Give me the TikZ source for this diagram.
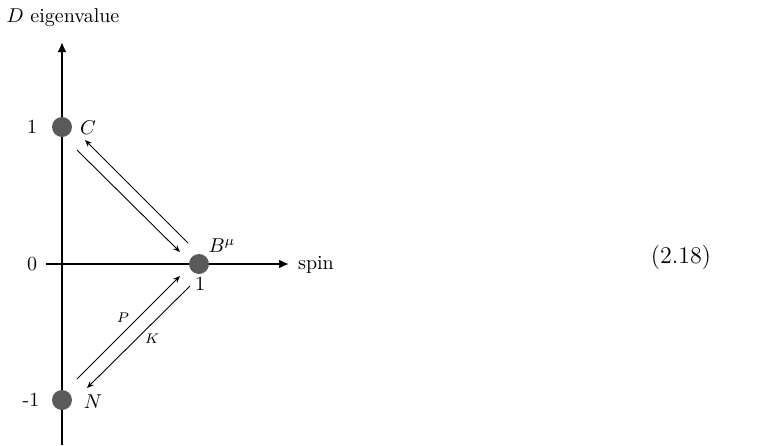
\documentclass[tikz,border=0pt]{standalone}
\usetikzlibrary{arrows.meta}
\definecolor{dotgray}{RGB}{90,90,90}
\begin{document}
\begin{tikzpicture}[x=0.5pt,y=-0.5pt,
  axis/.style={line width=1.2pt,-{Latex[length=5pt,width=4.5pt]}},
  trans/.style={line width=0.45pt,-{Stealth[length=3.5pt,width=2.8pt]}},
  state/.style={circle,fill=dotgray,minimum size=10pt,inner sep=0pt},
  lbl/.style={inner sep=0pt}]
\useasboundingbox (0,0) rectangle (766,445);
% axes
\coordinate (vbot) at (62,445);
\coordinate (vtop) at (62,42);
\coordinate (hleft) at (46,264);
\coordinate (hright) at (289,264);
\draw[axis] (vbot) -- (vtop);
\draw[axis] (hleft) -- (hright);
% states
\node[state] (C) at (62,127) {};
\node[state] (B) at (199,264) {};
\node[state] (N) at (62,400) {};
% labels
\node[lbl] (ylab) at (63,18) {$D$ eigenvalue};
\node[lbl] (xlab) at (316,265) {spin};
\node[lbl] (t1) at (32,127) {1};
\node[lbl] (t0) at (32,264) {0};
\node[lbl] (tm1) at (31,400) {-1};
\node[lbl] (Clab) at (88,128) {$C$};
\node[lbl] (Blab) at (222,246) {$B^{\mu}$};
\node[lbl] (Bspin) at (200,284) {1};
\node[lbl] (Nlab) at (93,402) {$N$};
\node[lbl] (eq) at (681,258) {\large (2.18)};
\node[lbl,font=\scriptsize] (Plab) at (123,318) {$P$};
\node[lbl,font=\scriptsize] (Klab) at (152,339) {$K$};
% transitions
\draw[trans] ([shift={(-11,-21)}]B.center) -- ([shift={(23,13)}]C.center);
\draw[trans] ([shift={(15,23)}]C.center) -- ([shift={(-19,-12)}]B.center);
\draw[trans] ([shift={(15,-21)}]N.center) -- ([shift={(-19,12)}]B.center);
\draw[trans] ([shift={(-9,22)}]B.center) -- ([shift={(25,-12)}]N.center);
\end{tikzpicture}
\end{document}
